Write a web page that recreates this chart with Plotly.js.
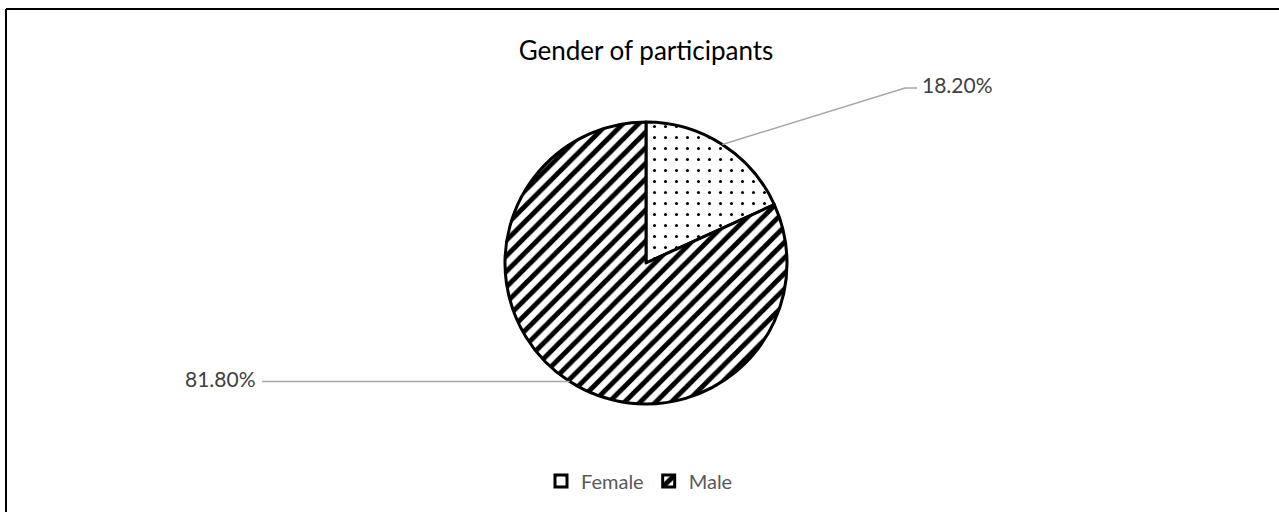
<!DOCTYPE html>
<html>
<head>
<meta charset="utf-8">
<script src="https://cdn.plot.ly/plotly-3.0.1.min.js"></script>
<style>
  html, body { margin: 0; padding: 0; background: #fff; }
  #chart { width: 1279px; height: 512px; }
</style>
</head>
<body>
<div id="chart"></div>
<script>
const categories = ["Female", "Male"];
const shares = [18.2, 81.8];
const labelTexts = ["18.20%", "81.80%"];
const chartTitle = "Gender of participants";

const W = 1279, H = 512;
const cx = 646, cy = 263, R = 141;
const px = x => x / W;
const py = y => 1 - y / H;

// mid angles (clockwise from 12 o'clock) from the data
const total = shares.reduce((a, b) => a + b, 0);
let acc = 0;
const mids = shares.map(v => { const m = (acc + v / 2) / total * 2 * Math.PI; acc += v; return m; });
const edge = mids.map(a => [cx + R * Math.sin(a), cy - R * Math.cos(a)]);

const leaderColor = "#a6a6a6";
const shapes = [
  {type: "line", xref: "paper", yref: "paper", x0: px(6), x1: px(6), y0: py(9), y1: -0.05, line: {color: "#000", width: 2}},
  {type: "line", xref: "paper", yref: "paper", x0: px(6), x1: 1.05, y0: py(9), y1: py(9), line: {color: "#000", width: 2}},
  {type: "path", xref: "paper", yref: "paper",
   path: `M ${px(edge[0][0])} ${py(edge[0][1])} L ${px(905)} ${py(88)} L ${px(917)} ${py(88)}`,
   line: {color: leaderColor, width: 1.5}},
  {type: "path", xref: "paper", yref: "paper",
   path: `M ${px(edge[1][0])} ${py(edge[1][1])} L ${px(262)} ${py(edge[1][1])}`,
   line: {color: leaderColor, width: 1.5}}
];

const labelFont = {family: "Lato, 'Open Sans', sans-serif", size: 21, color: "#404040"};
const annotations = [
  {xref: "paper", yref: "paper", x: px(920), y: py(84), xanchor: "left", yanchor: "middle",
   text: labelTexts[0], showarrow: false, font: labelFont},
  {xref: "paper", yref: "paper", x: px(258), y: py(378), xanchor: "right", yanchor: "middle",
   text: labelTexts[1], showarrow: false, font: labelFont}
];

const trace = {
  type: "pie",
  labels: categories,
  values: shares,
  sort: false,
  direction: "clockwise",
  rotation: 0,
  textinfo: "none",
  hoverinfo: "label+percent",
  domain: {x: [px(cx - R), px(cx + R)], y: [py(cy + R), py(cy - R)]},
  marker: {
    colors: ["#ffffff", "#ffffff"],
    line: {color: "#000000", width: 3},
    pattern: {
      shape: [".", "/"],
      fgcolor: "#000000",
      bgcolor: "#ffffff",
      size: [11, 11],
      solidity: [0.06, 0.45]
    }
  }
};

const layout = {
  width: W, height: H,
  margin: {l: 0, r: 0, t: 0, b: 0},
  paper_bgcolor: "#ffffff",
  showlegend: true,
  title: {text: chartTitle, x: px(cx), xanchor: "center", y: 1 - 51 / H, yanchor: "middle", yref: "container",
          font: {family: "Lato, 'Open Sans', sans-serif", size: 26, color: "#000000", weight: "normal"}},
  legend: {orientation: "h", x: 0.5, xanchor: "center", y: py(481), yanchor: "middle",
           font: {family: "Lato, 'Open Sans', sans-serif", size: 20, color: "#595959"}},
  shapes: shapes,
  annotations: annotations
};

Plotly.newPlot("chart", [trace], layout, {displayModeBar: false, staticPlot: true});
</script>
</body>
</html>
